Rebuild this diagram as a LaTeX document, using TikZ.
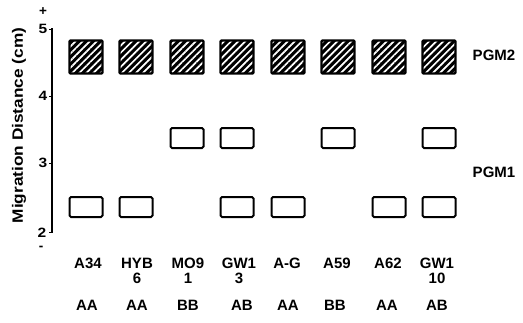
\documentclass[tikz,border=0pt]{standalone}
\usepackage{fontspec}
\setmainfont{Liberation Sans}
\newfontfamily\axisfont[FakeStretch=1.15]{Liberation Sans}
\usetikzlibrary{patterns.meta}
\begin{document}
\begin{tikzpicture}[x=1pt, y=-1pt,
  pgmtwo/.style={draw, line width=2.2pt, rounded corners=1pt, minimum width=33pt, minimum height=33pt, inner sep=0pt,
    preaction={fill=black}, pattern={Lines[angle=45,distance=5pt,line width=1.7pt]}, pattern color=white},
  pgmone/.style={draw, line width=2pt, rounded corners=1.5pt, minimum width=33pt, minimum height=20pt, inner sep=0pt},
  lbl/.style={font=\bfseries\fontsize{15}{15}\selectfont, align=center, inner sep=0pt},
  num/.style={font=\axisfont\bfseries\fontsize{13.5}{14}\selectfont, inner sep=0pt}
]
\useasboundingbox (0,0) rectangle (523,322);
% axis
\coordinate (top) at (52,28);
\coordinate (bot) at (52,233);
\draw[line width=1.8pt] (top) -- (bot);
\draw[line width=1pt] (49,29) -- (52,29) (49,96) -- (52,96) (49,163) -- (52,163) (49,232) -- (52,232);
\node[num] (t5) at (43,29) {5};
\node[num] (t4) at (43,96) {4};
\node[num] (t3) at (43,162.5) {3};
\node[num] (t2) at (42,233) {2};
\node[num, font=\bfseries\fontsize{13.5}{14}\selectfont] (plus) at (43,11.5) {+};
\node[num, font=\bfseries\fontsize{13.5}{14}\selectfont] (minus) at (41,248) {-};
\node[num, font=\axisfont\bfseries\fontsize{15}{16}\selectfont, rotate=90] (ylab) at (19,125.5) {Migration Distance (cm)};
% PGM2
\node[pgmtwo] (a1) at (86,57) {};
\node[pgmtwo] (a2) at (136,57) {};
\node[pgmtwo] (a3) at (187,57) {};
\node[pgmtwo] (a4) at (237,57) {};
\node[pgmtwo] (a5) at (288,57) {};
\node[pgmtwo] (a6) at (338,57) {};
\node[pgmtwo] (a7) at (389,57) {};
\node[pgmtwo] (a8) at (439,57) {};
% PGM1, upper
\node[pgmone] (b3) at (187,138) {};
\node[pgmone] (b4) at (237,138) {};
\node[pgmone] (b6) at (338,138) {};
\node[pgmone] (b8) at (439,138) {};
% PGM1, lower
\node[pgmone] (c1) at (86,207) {};
\node[pgmone] (c2) at (136,207) {};
\node[pgmone] (c4) at (237,207) {};
\node[pgmone] (c5) at (288,207) {};
\node[pgmone] (c7) at (389,207) {};
\node[pgmone] (c8) at (439,207) {};
\node[lbl] (pgm2) at (494,55) {PGM2};
\node[lbl] (pgm1) at (494,172) {PGM1};
% strains
\node[lbl, anchor=north] (s1) at (88,258) {A34};
\node[lbl, anchor=north] (s2) at (137,258) {HYB\\6};
\node[lbl, anchor=north] (s3) at (188,258) {MO9\\1};
\node[lbl, anchor=north] (s4) at (239,258) {GW1\\3};
\node[lbl, anchor=north] (s5) at (287,258) {A-G};
\node[lbl, anchor=north] (s6) at (337,258) {A59};
\node[lbl, anchor=north] (s7) at (388,258) {A62};
\node[lbl, anchor=north] (s8) at (437,258) {GW1\\10};
% genotypes
\node[lbl, anchor=north] (g1) at (87,300) {AA};
\node[lbl, anchor=north] (g2) at (137,300) {AA};
\node[lbl, anchor=north] (g3) at (188,300) {BB};
\node[lbl, anchor=north] (g4) at (242,300) {AB};
\node[lbl, anchor=north] (g5) at (288,300) {AA};
\node[lbl, anchor=north] (g6) at (335,300) {BB};
\node[lbl, anchor=north] (g7) at (387,300) {AA};
\node[lbl, anchor=north] (g8) at (437,300) {AB};
\end{tikzpicture}
\end{document}
